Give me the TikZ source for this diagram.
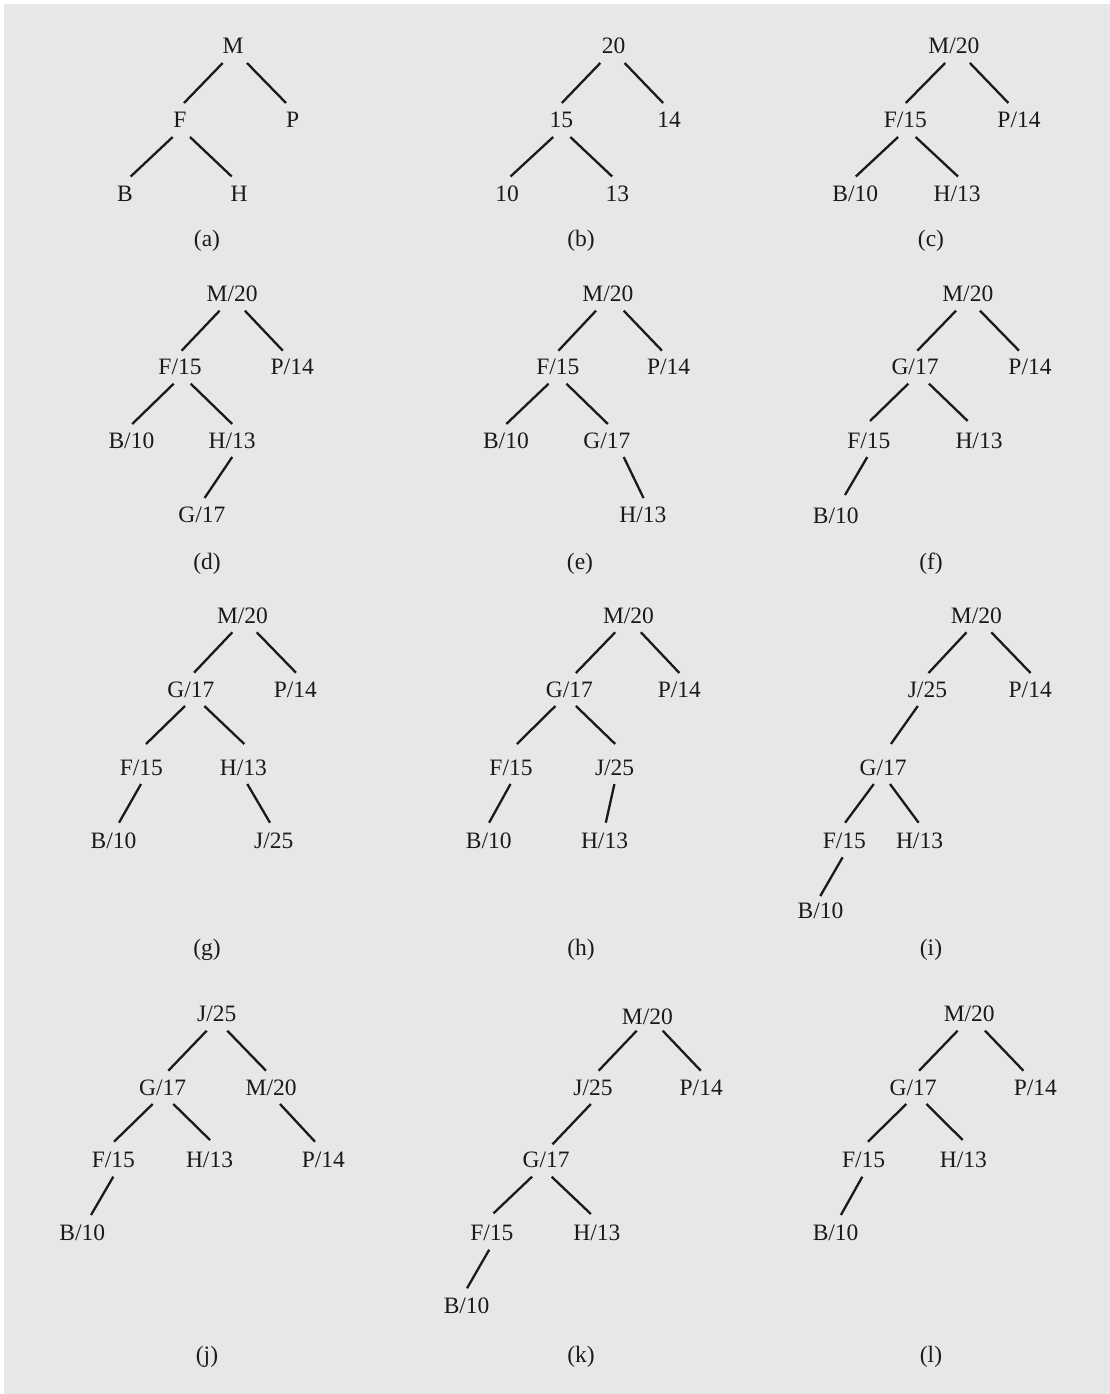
\documentclass[tikz,border=0pt]{standalone}
\usepackage{fontspec}
\setmainfont{Liberation Serif}
\definecolor{bggray}{RGB}{230,231,232}
\definecolor{ink}{RGB}{28,25,26}
\tikzset{
  tn/.style={anchor=base, inner sep=0pt, text=ink, font=\fontsize{23.5}{28}\selectfont},
  figlbl/.style={anchor=base, inner sep=0pt, text=ink, font=\fontsize{23.5}{28}\selectfont},
  tline/.style={draw=ink, line width=2.3pt}
}
\newcommand\tedge[5][25]{\draw[tline] ([xshift=#4pt,yshift=-9pt]#2.base) -- ([xshift=#5pt,yshift=#1pt]#3.base);}
\begin{document}
\begin{tikzpicture}[x=1pt,y=-1pt]
\useasboundingbox (0,0) rectangle (1110,1394);
\fill[white] (0,0) rectangle (1110,1394);
\fill[bggray] (4,4) rectangle (1110,1394);

% (a)
\node[tn] (aM) at (233,54) {M};
\node[tn] (aF) at (180,128) {F};
\node[tn] (aP) at (292.7,128) {P};
\node[tn] (aB) at (125,201.5) {B};
\node[tn] (aH) at (239,201.5) {H};
\tedge{aM}{aF}{-10.3}{4}
\tedge{aM}{aP}{14}{-6.7}
\tedge{aF}{aB}{-7.3}{5.7}
\tedge{aF}{aH}{10}{-7.3}
\node[figlbl] (la) at (207,246) {(a)};

% (b)
\node[tn] (b20) at (613.7,54) {20};
\node[tn] (b15) at (561.4,128) {15};
\node[tn] (b14) at (669,128) {14};
\node[tn] (b10) at (507,201.5) {10};
\node[tn] (b13) at (617.4,201.5) {13};
\tedge{b20}{b15}{-13.4}{0.4}
\tedge{b20}{b14}{10.9}{-5.9}
\tedge{b15}{b10}{-8.2}{3.5}
\tedge{b15}{b13}{8.9}{-5.2}
\node[figlbl] (lb) at (581,246) {(b)};

% (c)
\node[tn] (cM) at (953.9,54) {M/20};
\node[tn] (cF) at (905.3,128) {F/15};
\node[tn] (cP) at (1019,128) {P/14};
\node[tn] (cB) at (855.2,201.5) {B/10};
\node[tn] (cH) at (957.1,201.5) {H/13};
\tedge{cM}{cF}{-8.8}{0.5}
\tedge{cM}{cP}{16}{-10.6}
\tedge{cF}{cB}{-7.2}{0.6}
\tedge{cF}{cH}{10.3}{0.9}
\node[figlbl] (lc) at (931,246) {(c)};

% (d)
\node[tn] (dM) at (232.2,301.7) {M/20};
\node[tn] (dF) at (180,374.7) {F/15};
\node[tn] (dP) at (292.2,374.7) {P/14};
\node[tn] (dB) at (131.4,448) {B/10};
\node[tn] (dH) at (232.2,448) {H/13};
\node[tn] (dG) at (201.8,522) {G/17};
\tedge[24]{dM}{dF}{-12.6}{1.6}
\tedge[24]{dM}{dP}{12.7}{-9.4}
\tedge[24]{dF}{dB}{-6.3}{0.8}
\tedge[24]{dF}{dH}{10.7}{0}
\tedge[24]{dH}{dG}{0}{2.8}
\node[figlbl] (ld) at (207,569) {(d)};

% (e)
\node[tn] (eM) at (607.9,301.7) {M/20};
\node[tn] (eF) at (557.9,374.7) {F/15};
\node[tn] (eP) at (668.6,374.7) {P/14};
\node[tn] (eB) at (505.9,448) {B/10};
\node[tn] (eG) at (606.9,448) {G/17};
\node[tn] (eH) at (642.9,522) {H/13};
\tedge[24]{eM}{eF}{-11.9}{0.5}
\tedge[24]{eM}{eP}{15.8}{-6.6}
\tedge[24]{eF}{eB}{-9.3}{0.4}
\tedge[24]{eF}{eG}{8.5}{1}
\tedge[24]{eG}{eH}{16.8}{0.6}
\node[figlbl] (le) at (580,569) {(e)};

% (f)
\node[tn] (fM) at (967.8,301.7) {M/20};
\node[tn] (fG) at (915,374.7) {G/17};
\node[tn] (fP) at (1030,374.7) {P/14};
\node[tn] (fF) at (868.8,448) {F/15};
\node[tn] (fH) at (979,448) {H/13};
\node[tn] (fB) at (835.7,523) {B/10};
\tedge[24]{fM}{fG}{-11.8}{2.3}
\tedge[24]{fM}{fP}{12.2}{-11}
\tedge[27]{fG}{fF}{-6.7}{1.2}
\tedge[27]{fG}{fH}{14}{-11.3}
\tedge[28]{fF}{fB}{-1.5}{9.3}
\node[figlbl] (lf) at (931,569) {(f)};

% (g)
\node[tn] (gM) at (242.5,623.3) {M/20};
\node[tn] (gG) at (190.8,697) {G/17};
\node[tn] (gP) at (295.3,697) {P/14};
\node[tn] (gF) at (141.3,775) {F/15};
\node[tn] (gH) at (243.3,775) {H/13};
\node[tn] (gB) at (113.5,848.3) {B/10};
\node[tn] (gJ) at (273.7,848.3) {J/25};
\tedge[24.3]{gM}{gG}{-10.2}{3.2}
\tedge[24.3]{gM}{gP}{14.2}{0.7}
\tedge[31]{gG}{gF}{-5.8}{4.7}
\tedge[31]{gG}{gH}{13.5}{1}
\tedge[25.6]{gF}{gB}{-0.3}{5.5}
\tedge[25.6]{gH}{gJ}{4}{-3.7}
\node[figlbl] (lg) at (207,955.5) {(g)};

% (h)
\node[tn] (hM) at (628.5,623.3) {M/20};
\node[tn] (hG) at (569.3,697) {G/17};
\node[tn] (hP) at (679.4,697) {P/14};
\node[tn] (hF) at (511,775) {F/15};
\node[tn] (hJ) at (614.6,775) {J/25};
\node[tn] (hB) at (488.7,848.3) {B/10};
\node[tn] (hH) at (604.5,848.3) {H/13};
\tedge[24]{hM}{hG}{-13.3}{6.6}
\tedge[24]{hM}{hP}{12.4}{0}
\tedge[31]{hG}{hF}{-13.9}{5.9}
\tedge[31]{hG}{hJ}{6.6}{0.6}
\tedge[25.6]{hF}{hB}{-0.5}{0.4}
\tedge[25.6]{hJ}{hH}{-0.2}{1.3}
\node[figlbl] (lh) at (581,955.5) {(h)};

% (i)
\node[tn] (iM) at (976.4,623.3) {M/20};
\node[tn] (iJ) at (927.4,697) {J/25};
\node[tn] (iP) at (1030.2,697) {P/14};
\node[tn] (iG) at (883.2,775) {G/17};
\node[tn] (iF) at (844.3,848.3) {F/15};
\node[tn] (iH) at (919.5,848.3) {H/13};
\node[tn] (iB) at (820.5,918.3) {B/10};
\tedge[24]{iM}{iJ}{-9.9}{1.1}
\tedge[24]{iM}{iP}{14.9}{0.4}
\tedge[31]{iJ}{iG}{-9.6}{7.7}
\tedge[25.6]{iG}{iF}{-9.4}{0.8}
\tedge[25.6]{iG}{iH}{6.8}{-0.9}
\tedge[22.3]{iF}{iB}{-1.7}{-0.2}
\node[figlbl] (li) at (931,955.5) {(i)};

% (j)
\node[tn] (jJ) at (216.7,1021.7) {J/25};
\node[tn] (jG) at (162.7,1095) {G/17};
\node[tn] (jM) at (271.2,1095) {M/20};
\node[tn] (jF) at (113.3,1167.7) {F/15};
\node[tn] (jH) at (209.5,1167.7) {H/13};
\node[tn] (jP) at (323.3,1167.7) {P/14};
\node[tn] (jB) at (82.2,1240.7) {B/10};
\tedge[24.3]{jJ}{jG}{-10}{5.6}
\tedge[24.3]{jJ}{jM}{10.6}{-5.2}
\tedge[26]{jG}{jF}{-10}{0.7}
\tedge[27.7]{jG}{jH}{10.6}{0.5}
\tedge[26]{jM}{jP}{8.8}{-8.3}
\tedge[25.7]{jF}{jB}{0}{8.8}
\node[figlbl] (lj) at (207,1362) {(j)};

% (k)
\node[tn] (kM) at (647.4,1024.3) {M/20};
\node[tn] (kJ) at (593,1095) {J/25};
\node[tn] (kP) at (701.2,1095) {P/14};
\node[tn] (kG) at (546.1,1167.7) {G/17};
\node[tn] (kF) at (491.8,1240.7) {F/15};
\node[tn] (kH) at (596.9,1240.7) {H/13};
\node[tn] (kB) at (466.6,1313.3) {B/10};
\draw[tline] ([xshift=-10.7pt,yshift=-6.4pt]kM.base) -- ([xshift=5.6pt,yshift=24.3pt]kJ.base);
\draw[tline] ([xshift=15.3pt,yshift=-6.4pt]kM.base) -- ([xshift=-0.4pt,yshift=24.3pt]kP.base);
\tedge[23.4]{kJ}{kG}{-2.1}{6.4}
\tedge[27.4]{kG}{kF}{-14.1}{1.7}
\tedge[26.7]{kG}{kH}{5.5}{-6}
\tedge[25]{kF}{kB}{-2.6}{0.4}
\node[figlbl] (lk) at (581,1362) {(k)};

% (l)
\node[tn] (lM) at (969.2,1021.7) {M/20};
\node[tn] (lG) at (913.2,1095) {G/17};
\node[tn] (lP) at (1035.4,1095) {P/14};
\node[tn] (lF) at (863.6,1167.7) {F/15};
\node[tn] (lH) at (963.4,1167.7) {H/13};
\node[tn] (lB) at (835.6,1240.7) {B/10};
\tedge[24.3]{lM}{lG}{-11.6}{5.9}
\tedge[24.3]{lM}{lP}{15.8}{-12}
\tedge[26]{lG}{lF}{-6.9}{4.3}
\tedge[27.7]{lG}{lH}{13.2}{-0.7}
\tedge[25.7]{lF}{lB}{-1.3}{5.3}
\node[figlbl] (ll) at (931,1362) {(l)};
\end{tikzpicture}
\end{document}
